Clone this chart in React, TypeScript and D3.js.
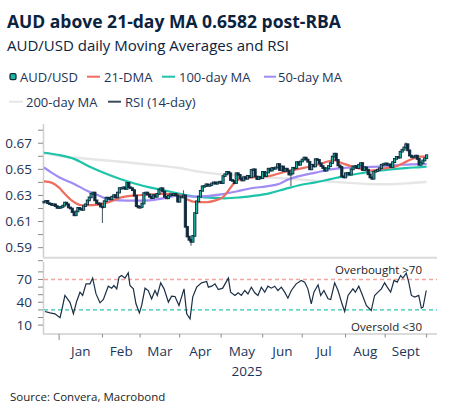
import React from "react";
import * as d3 from "d3";

// AUD/USD daily closes by month (trading days, Dec 20 2024 – Oct 1 2025)
const closeDec24 = [0.6252, 0.6258, 0.624, 0.6236, 0.6228, 0.6232, 0.6218, 0.6205];
const closeJan = [0.621, 0.6212, 0.6222, 0.6245, 0.6232, 0.6208, 0.62, 0.6172, 0.6148, 0.6178, 0.6205, 0.6196, 0.619, 0.6218, 0.6232, 0.6262, 0.6285, 0.6312, 0.6322, 0.6262, 0.624, 0.6238, 0.6215];
const closeFeb = [0.6212, 0.6256, 0.6283, 0.6282, 0.627, 0.629, 0.6302, 0.6285, 0.6322, 0.6356, 0.6357, 0.6362, 0.635, 0.6396, 0.6362, 0.6355, 0.634, 0.6298, 0.6218, 0.6208];
const closeMar = [0.6212, 0.6238, 0.6318, 0.6322, 0.6308, 0.629, 0.628, 0.6302, 0.629, 0.6312, 0.6345, 0.6355, 0.633, 0.629, 0.6278, 0.6298, 0.6308, 0.6302, 0.6312, 0.63, 0.6252];
const closeApr = [0.6285, 0.6292, 0.63, 0.606, 0.5985, 0.596, 0.5945, 0.599, 0.6165, 0.6255, 0.629, 0.6335, 0.637, 0.6372, 0.6385, 0.6375, 0.638, 0.6392, 0.64, 0.639, 0.6398, 0.6405];
const closeMay = [0.6395, 0.6448, 0.6462, 0.648, 0.647, 0.6418, 0.6412, 0.6395, 0.647, 0.6458, 0.643, 0.6415, 0.644, 0.6428, 0.645, 0.644, 0.6495, 0.65, 0.6445, 0.6425, 0.644, 0.6432];
const closeJun = [0.648, 0.6448, 0.6475, 0.6505, 0.649, 0.651, 0.6505, 0.6515, 0.654, 0.6495, 0.6522, 0.6488, 0.6505, 0.649, 0.646, 0.6468, 0.6512, 0.651, 0.6555, 0.6535, 0.656];
const closeJul = [0.6575, 0.659, 0.6575, 0.6558, 0.65, 0.6535, 0.6522, 0.6578, 0.6572, 0.6545, 0.6525, 0.651, 0.649, 0.6508, 0.6525, 0.6548, 0.6598, 0.662, 0.6572, 0.653, 0.6518, 0.6445, 0.6438];
const closeAug = [0.647, 0.6472, 0.646, 0.65, 0.6522, 0.6525, 0.651, 0.6535, 0.6548, 0.6495, 0.6515, 0.6498, 0.6462, 0.6438, 0.6428, 0.6482, 0.6488, 0.6495, 0.6508, 0.6535, 0.654];
const closeSep = [0.6545, 0.6535, 0.6538, 0.6518, 0.6555, 0.658, 0.6595, 0.659, 0.6635, 0.665, 0.6668, 0.6692, 0.6645, 0.6605, 0.6595, 0.6598, 0.6605, 0.658, 0.6535, 0.655, 0.6568, 0.6585];
const closeOct = [0.6608];

// intraday spikes (trading-day index, extreme)
const wickDays = [31, 74, 78, 131, 192];
const wickValues = [0.6088, 0.634, 0.5915, 0.6372, 0.6705];

// moving averages, read at trading-day positions
const ma21Days = [0, 4, 8, 11, 15, 20, 26, 33, 41, 48, 55, 62, 70, 75, 80, 86, 91, 95, 98, 100, 104, 112, 120, 128, 136, 145, 154, 158, 165, 173, 180, 187, 191, 195, 199, 203];
const ma21Values = [0.6408, 0.6398, 0.636, 0.6313, 0.6258, 0.6225, 0.6226, 0.6243, 0.6285, 0.63, 0.6305, 0.6312, 0.631, 0.6276, 0.625, 0.6248, 0.6262, 0.6288, 0.634, 0.638, 0.6425, 0.644, 0.645, 0.6482, 0.6505, 0.6535, 0.6568, 0.6548, 0.6515, 0.649, 0.6506, 0.6524, 0.655, 0.6578, 0.6597, 0.6598];
const ma50Days = [0, 4, 8, 16, 24, 29, 34, 40, 48, 56, 64, 72, 78, 86, 94, 102, 110, 118, 125, 130, 136, 144, 152, 160, 170, 180, 190, 203];
const ma50Values = [0.6514, 0.6475, 0.644, 0.6388, 0.6328, 0.63, 0.627, 0.6262, 0.626, 0.6262, 0.628, 0.63, 0.6292, 0.6295, 0.6308, 0.633, 0.6355, 0.637, 0.639, 0.6425, 0.645, 0.6475, 0.65, 0.6512, 0.6518, 0.6522, 0.6535, 0.654];
const ma100Days = [0, 8, 16, 24, 32, 40, 48, 56, 64, 72, 80, 88, 96, 104, 112, 120, 128, 136, 144, 152, 160, 168, 176, 184, 192, 200, 203];
const ma100Values = [0.6627, 0.661, 0.658, 0.6522, 0.6472, 0.6428, 0.6392, 0.6362, 0.6338, 0.6312, 0.629, 0.6284, 0.6278, 0.6285, 0.6298, 0.6318, 0.635, 0.638, 0.64, 0.6425, 0.645, 0.647, 0.6488, 0.65, 0.651, 0.6517, 0.652];
const ma200Days = [0, 10, 20, 30, 45, 56, 64, 72, 82, 94, 110, 128, 145, 160, 172, 185, 195, 203];
const ma200Values = [0.6625, 0.6598, 0.6585, 0.6572, 0.6552, 0.6535, 0.6525, 0.651, 0.6482, 0.6462, 0.6445, 0.643, 0.6412, 0.6398, 0.6388, 0.6386, 0.6395, 0.6405];

// RSI (14-day), read at trading-day positions
const rsiDays = [0.5, 3.2, 5.8, 8.5, 9.4, 11.1, 13.8, 15.6, 17.3, 19.1, 20.5, 22.3, 24.4, 25.8, 27.6, 29.7, 31.5, 34.1, 35.9, 37.1, 38.6, 39.8, 41.2, 43, 44.7, 45.6, 47.4, 48.8, 50.6, 51.8, 53.6, 55.3, 57.1, 58.9, 60.1, 61.9, 63.7, 66, 67.7, 69.5, 71.6, 74.3, 75.7, 77.5, 78.9, 81, 83.6, 86.3, 87.2, 89, 90.7, 92.5, 94.8, 96.6, 97.8, 99, 101.3, 103, 104.7, 106.5, 108.2, 110, 111.8, 113.5, 115.3, 117.1, 118.8, 120.6, 122.4, 124.1, 125.9, 127.7, 129.4, 131.2, 133.8, 136.5, 138.3, 140, 141.8, 143.2, 145.4, 146.8, 148.5, 150.7, 152.1, 154.2, 156, 158.1, 159.5, 161.3, 163.9, 165.2, 167, 168.7, 171, 173.6, 175.4, 177.2, 179, 180.7, 182.1, 183.9, 185.7, 187.4, 189.2, 190.4, 192.2, 193.5, 194.9, 196.7, 198.8, 200.2, 201.1, 202.8];
const rsiValues = [27.9, 26.1, 24.8, 19.6, 29.2, 49, 40, 24.8, 41, 53.3, 49, 64.3, 64.3, 71.8, 51, 39.3, 43.7, 61.2, 58.6, 62.1, 57.7, 73, 75.3, 71.8, 78.8, 62.1, 57.7, 38, 26.1, 35.8, 58.6, 55.5, 44.6, 55.5, 49, 65.6, 57.7, 40.2, 48.1, 47.6, 35.8, 57.7, 24.8, 18.2, 46.8, 59.9, 65.6, 67.4, 59.9, 61.2, 64.3, 56.8, 58.6, 66.5, 71.8, 53.3, 49, 52.5, 49, 55.5, 51, 59.9, 52.5, 49, 59.9, 53.3, 61.2, 58.6, 61.2, 55.5, 59.9, 53.3, 45.4, 55.5, 64.3, 68.7, 66.5, 57.7, 38, 53.3, 63, 49, 55.5, 44.6, 43.7, 65.6, 55.5, 38, 27.9, 49, 57.7, 53.3, 61.2, 51, 35.8, 29.2, 49, 53.3, 57.7, 65.6, 59.9, 53.3, 68.7, 66.5, 75.3, 71.8, 78.4, 66.5, 49, 46.8, 49, 32.3, 33.6, 55.5];

const priceTicks = [0.59, 0.61, 0.63, 0.65, 0.67];
const priceMinorTicks = [0.58, 0.59, 0.6, 0.61, 0.62, 0.63, 0.64, 0.65, 0.66, 0.67, 0.68];
const rsiTicks = [10, 40, 70];
const rsiMinorTicks = [10, 20, 30, 40, 50, 60, 70, 80];
const monthLabels = ["Jan", "Feb", "Mar", "Apr", "May", "Jun", "Jul", "Aug", "Sept"];

const closes = [...closeDec24, ...closeJan, ...closeFeb, ...closeMar, ...closeApr, ...closeMay, ...closeJun, ...closeJul, ...closeAug, ...closeSep, ...closeOct];

// trading days (weekdays) covering the closes
const tradingDays: Date[] = [];
for (let d = new Date(2024, 11, 20); tradingDays.length < closes.length; d = new Date(d.getFullYear(), d.getMonth(), d.getDate() + 1)) {
  if (d.getDay() !== 0 && d.getDay() !== 6) tradingDays.push(d);
}
const monthStarts = tradingDays
  .map((d, i) => (i > 0 && d.getMonth() !== tradingDays[i - 1].getMonth() ? i : -1))
  .filter((i) => i >= 0);

const C = {
  navy: "#0c2340",
  text: "#1d3557",
  teal: "#1cb8a2",
  dark: "#0f2a3d",
  red: "#ef6c5f",
  green: "#1ec4aa",
  purple: "#a08cf3",
  grey: "#e6e6e6",
  axis: "#cfcfcf",
  tick: "#8a8a8a",
};
const FONT = "'Open Sans', 'Noto Sans', sans-serif";

export default function App() {
  const x = d3.scaleLinear().domain([0, 208.5]).range([44, 437]);
  const y = d3.scaleLinear().domain([0.5823, 0.6878]).range([257.7, 120]);
  const yr = d3.scaleLinear().domain([-1.7, 93]).range([334, 262]);

  const maLine = (days: number[], vals: number[]) =>
    d3
      .line<number>()
      .x((_, i) => x(days[i]))
      .y((v) => y(v))
      .curve(d3.curveMonotoneX)(vals) as string;

  const rsiLine = d3
    .line<number>()
    .x((_, i) => x(rsiDays[i]))
    .y((v) => yr(v))(rsiValues) as string;

  const candles = closes.map((c, i) => {
    const o = i === 0 ? c : closes[i - 1];
    let hi = Math.max(o, c);
    let lo = Math.min(o, c);
    const w = wickDays.indexOf(i);
    if (w >= 0) {
      if (wickValues[w] > hi) hi = wickValues[w];
      if (wickValues[w] < lo) lo = wickValues[w];
    }
    return { i, o, c, hi, lo, spike: w >= 0 };
  });

  return (
    <svg width={453} height={417} style={{ position: "absolute", left: 0, top: 0, background: "#fff" }} fontFamily={FONT}>
      <text x={7} y={28} fontSize={17.5} fontWeight={700} fill={C.navy}>
        AUD above 21-day MA 0.6582 post-RBA
      </text>
      <text x={7} y={51} fontSize={15} fill={C.navy}>
        AUD/USD daily Moving Averages and RSI
      </text>

      {/* legend */}
      <g fontSize={13} fill={C.text}>
        <rect x={10} y={73.7} width={6} height={6} rx={1.5} fill={C.teal} stroke={C.dark} strokeWidth={1.3} />
        <text x={20} y={81.5}>AUD/USD</text>
        <line x1={87} x2={100} y1={76.7} y2={76.7} stroke={C.red} strokeWidth={2} />
        <text x={104} y={81.5}>21-DMA</text>
        <line x1={162} x2={175} y1={76.7} y2={76.7} stroke={C.green} strokeWidth={2} />
        <text x={179} y={81.5}>100-day MA</text>
        <line x1={264} x2={276} y1={76.7} y2={76.7} stroke={C.purple} strokeWidth={2} />
        <text x={278} y={81.5}>50-day MA</text>
        <line x1={9} x2={23} y1={101.7} y2={101.7} stroke={C.grey} strokeWidth={2} />
        <text x={26} y={106.5}>200-day MA</text>
        <line x1={108} x2={121} y1={101.7} y2={101.7} stroke="#3b4a5a" strokeWidth={2} />
        <text x={125} y={106.5}>RSI (14-day)</text>
      </g>

      {/* price panel axes */}
      <line x1={43.5} x2={43.5} y1={124} y2={257.7} stroke={C.axis} strokeWidth={1.5} />
      {priceMinorTicks.map((t) => (
        <line key={t} x1={38} x2={43} y1={y(t)} y2={y(t)} stroke={C.tick} strokeWidth={1} />
      ))}
      {priceTicks.map((t) => (
        <text key={t} x={32} y={y(t) + 4.8} textAnchor="end" fontSize={13.5} fill={C.text}>
          {t.toFixed(2)}
        </text>
      ))}
      <line x1={43} x2={437} y1={257.7} y2={257.7} stroke="#dadada" strokeWidth={2} />

      {/* moving averages */}
      <path d={maLine(ma200Days, ma200Values)} fill="none" stroke={C.grey} strokeWidth={2.4} />
      <path d={maLine(ma100Days, ma100Values)} fill="none" stroke={C.green} strokeWidth={2.2} />
      <path d={maLine(ma50Days, ma50Values)} fill="none" stroke={C.purple} strokeWidth={2.2} />
      <path d={maLine(ma21Days, ma21Values)} fill="none" stroke={C.red} strokeWidth={2.2} />

      {/* candles */}
      {candles.map((k) => (
        <line key={"w" + k.i} x1={x(k.i)} x2={x(k.i)} y1={y(k.hi)} y2={y(k.lo)} stroke={k.spike ? "#56626e" : C.dark} strokeWidth={1.1} />
      ))}
      {candles.map((k) => (
        <rect
          key={k.i}
          x={x(k.i) - 1.1}
          width={2.2}
          y={y(Math.max(k.o, k.c)) - 0.4}
          height={Math.max(Math.abs(y(k.o) - y(k.c)), 0.8) + 0.8}
          fill={k.c >= k.o ? C.teal : C.dark}
          stroke={C.dark}
          strokeWidth={0.9}
        />
      ))}

      {/* RSI panel */}
      <line x1={43.5} x2={43.5} y1={262} y2={334} stroke={C.axis} strokeWidth={1.5} />
      {rsiMinorTicks.map((t) => (
        <line key={t} x1={38} x2={43} y1={yr(t)} y2={yr(t)} stroke={C.tick} strokeWidth={1} />
      ))}
      {rsiTicks.map((t) => (
        <text key={t} x={32} y={yr(t) + 4.8} textAnchor="end" fontSize={13.5} fill={C.text}>
          {t}
        </text>
      ))}
      <line x1={44} x2={437} y1={yr(70)} y2={yr(70)} stroke="#f4a49d" strokeWidth={1.4} strokeDasharray="4,3" />
      <line x1={44} x2={437} y1={yr(30)} y2={yr(30)} stroke="#2ec5b0" strokeWidth={1.4} strokeDasharray="4,3" />
      <path d={rsiLine} fill="none" stroke="#1b2f45" strokeWidth={1.2} />
      <text x={422} y={273.5} textAnchor="end" fontSize={11.5} fill="#222">Overbought &gt;70</text>
      <text x={422} y={331} textAnchor="end" fontSize={11.5} fill="#222">Oversold  &lt;30</text>

      {/* time axis */}
      <line x1={43} x2={437} y1={334} y2={334} stroke={C.axis} strokeWidth={1.5} />
      {monthStarts.map((i, k) => (
        <line key={i} x1={x(i)} x2={x(i)} y1={334} y2={k === 0 ? 340 : 337.5} stroke={C.tick} strokeWidth={1} />
      ))}
      {monthLabels.map((m, k) => (
        <text key={m} x={(x(monthStarts[k]) + x(monthStarts[k + 1])) / 2} y={356} textAnchor="middle" fontSize={13.5} fill={C.text}>
          {m}
        </text>
      ))}
      <text x={247} y={376} textAnchor="middle" fontSize={13.5} fill={C.text}>2025</text>

      <text x={10} y={401} fontSize={11.5} fill="#222">Source: Convera, Macrobond</text>
    </svg>
  );
}
